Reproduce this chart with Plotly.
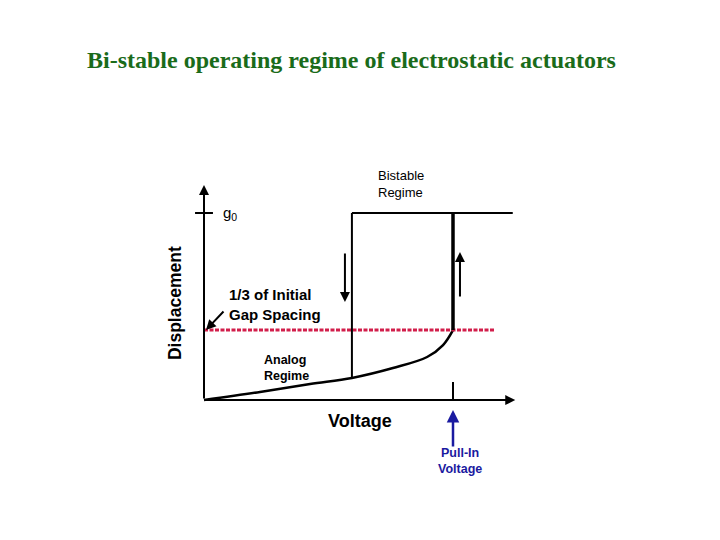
import plotly.graph_objects as go

# ---- data (normalised: voltage / V_pull-in, displacement / g0) ----
curve_voltage = [0.0, 0.225, 0.426, 0.594, 0.759, 0.896, 0.96, 1.0]
curve_disp = [0.0, 0.043, 0.086, 0.118, 0.171, 0.23, 0.294, 0.374]
v_pull_out = 0.594
v_pull_in = 1.0
v_max = 1.24
g0 = 1.0
third_gap = 0.374
red_line_end = 1.169
axis_x_end = 1.25
axis_y_end = 1.15

title_text = "Bi-stable operating regime of electrostatic actuators"

fig = go.Figure()

black = "#000000"
# analog regime curve
fig.add_trace(go.Scatter(x=curve_voltage, y=curve_disp, mode="lines",
                         line=dict(color=black, width=2.5, shape="spline"),
                         hoverinfo="skip"))
# red 1/3 gap line
fig.add_trace(go.Scatter(x=[0, red_line_end], y=[third_gap, third_gap], mode="lines",
                         line=dict(color="#d21e4b", width=3, dash="4px,1.5px"),
                         hoverinfo="skip"))
# pull-out vertical
fig.add_trace(go.Scatter(x=[v_pull_out, v_pull_out], y=[curve_disp[3], g0], mode="lines",
                         line=dict(color=black, width=2), hoverinfo="skip"))
# top branch
fig.add_trace(go.Scatter(x=[v_pull_out, v_max], y=[g0, g0], mode="lines",
                         line=dict(color=black, width=2), hoverinfo="skip"))
# pull-in vertical
fig.add_trace(go.Scatter(x=[v_pull_in, v_pull_in], y=[third_gap, g0], mode="lines",
                         line=dict(color=black, width=3.5), hoverinfo="skip"))
# g0 tick
fig.add_trace(go.Scatter(x=[-0.036, 0.036], y=[g0, g0], mode="lines",
                         line=dict(color=black, width=2), hoverinfo="skip"))
# pull-in tick on x axis
fig.add_trace(go.Scatter(x=[v_pull_in, v_pull_in], y=[0, 0.096], mode="lines",
                         line=dict(color=black, width=2), hoverinfo="skip"))

annotations = []

def arrow(x, y, ax, ay, color=black, width=2, head=2, size=1.0):
    annotations.append(dict(x=x, y=y, ax=ax, ay=ay, xref="x", yref="y",
                            axref="x", ayref="y", text="", showarrow=True,
                            arrowhead=head, arrowwidth=width, arrowsize=size,
                            arrowcolor=color))

# axes
arrow(0, axis_y_end, 0, 0)
arrow(axis_x_end, 0, 0, 0)
# hysteresis arrows
arrow(0.566, 0.524, 0.566, 0.791)
arrow(1.028, 0.791, 1.028, 0.545)
# label arrow
arrow(0.008, 0.374, 0.084, 0.481)
# pull-in arrow
arrow(v_pull_in, -0.053, v_pull_in, -0.257, color="#1a1aa0", width=2.5)

sans = "Liberation Sans"

def label(x, y, text, size, xanchor="left", color=black, bold=True, angle=0):
    annotations.append(dict(x=x, y=y, xref="x", yref="y", text=("<b>%s</b>" % text) if bold else text,
                            showarrow=False, xanchor=xanchor, yanchor="middle",
                            align=xanchor if xanchor != "center" else "center",
                            textangle=angle,
                            font=dict(family=sans, size=size, color=color)))

label(-0.116, 0.519, "Displacement", 17.5, xanchor="center", angle=-90)
label(0.627, -0.112, "Voltage", 18, xanchor="center")
label(0.691, 1.155, "Bistable<br>Regime", 13, bold=False)
label(0.068, 0.995, "g<sub>0</sub>", 15, bold=False)
label(0.092, 0.513, "1/3 of Initial<br>Gap Spacing", 15)
label(0.233, 0.171, "Analog<br>Regime", 12.5)
label(v_pull_in + 0.028, -0.326, "Pull-In<br>Voltage", 12.5, xanchor="center", color="#1a1aa0")

# page body has an 8px margin, so shift the mapping accordingly
off = 8
annotations.append(dict(x=(351 - off) / 720, y=1 - (60 - off) / 540, xref="paper", yref="paper",
                        text="<b>%s</b>" % title_text,
                        showarrow=False, xanchor="center", yanchor="middle",
                        font=dict(family="Liberation Serif", size=24, color="#1a6b1a")))

fig.update_layout(
    width=720, height=540,
    margin=dict(l=0, r=0, t=0, b=0),
    paper_bgcolor="white", plot_bgcolor="white",
    showlegend=False,
    xaxis=dict(range=[-(204 - off) / 249, (720 - 204 + off) / 249], visible=False, fixedrange=True),
    yaxis=dict(range=[-(540 - 400 + off) / 187, (400 - off) / 187], visible=False, fixedrange=True),
    annotations=annotations,
)

fig.write_html("out.html")
